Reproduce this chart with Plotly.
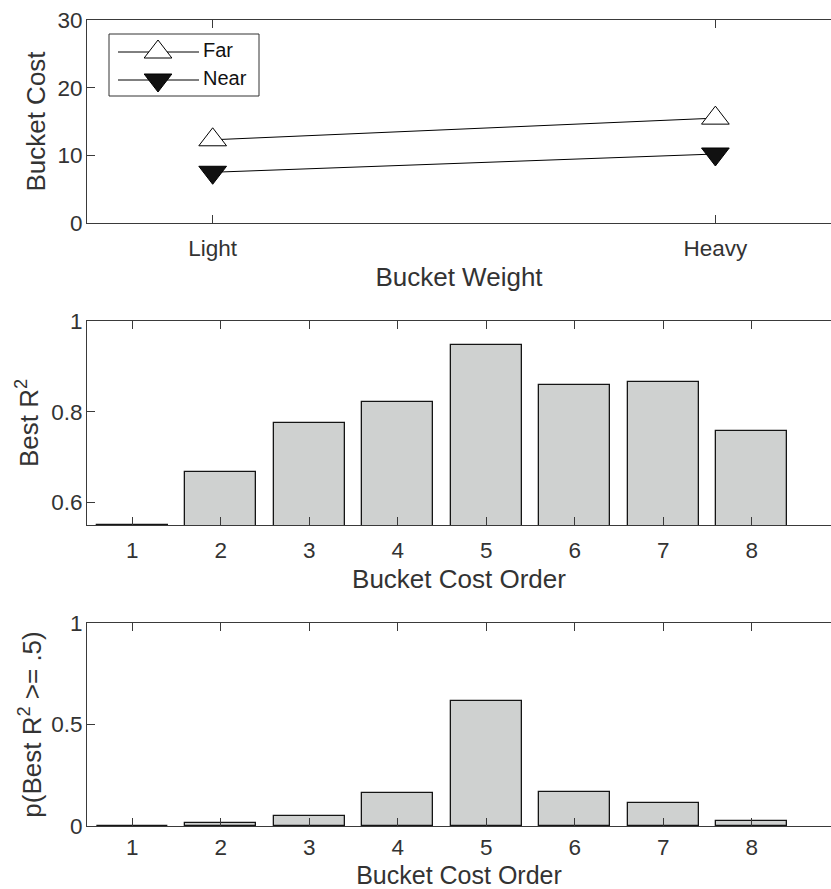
import plotly.graph_objects as go

# ---- data ----
weight_labels = ["Light", "Heavy"]
series_names = ["Far", "Near"]
far_cost = [12.3, 15.5]
near_cost = [7.5, 10.2]

cost_order = [1, 2, 3, 4, 5, 6, 7, 8]
best_r2 = [0.551, 0.666, 0.776, 0.821, 0.948, 0.859, 0.866, 0.758]
p_best_r2 = [0.0, 0.017, 0.049, 0.163, 0.617, 0.167, 0.111, 0.026]

FONT = "Liberation Sans, Arial, Helvetica, sans-serif"
AX = "#3a3a3a"
TXT = "#333333"
BAR_FILL = "#cfd1d0"
MSIZE = 24

fig = go.Figure()

xpos = list(range(1, len(weight_labels) + 1))
far_marker = dict(symbol="triangle-up", size=MSIZE, color="white",
                  line=dict(color="black", width=1))
near_marker = dict(symbol="triangle-down", size=MSIZE, color="#111111",
                   line=dict(color="black", width=1))

fig.add_trace(go.Scatter(
    x=xpos, y=far_cost, name=series_names[0], mode="lines+markers",
    line=dict(color="black", width=1), marker=far_marker,
    showlegend=False, xaxis="x", yaxis="y"))
fig.add_trace(go.Scatter(
    x=xpos, y=near_cost, name=series_names[1], mode="lines+markers",
    line=dict(color="black", width=1), marker=near_marker,
    showlegend=False, xaxis="x", yaxis="y"))

fig.add_trace(go.Bar(
    x=cost_order, y=best_r2, width=0.8, showlegend=False,
    marker=dict(color=BAR_FILL, line=dict(color="#151515", width=1.3)),
    xaxis="x2", yaxis="y2"))
fig.add_trace(go.Bar(
    x=cost_order, y=p_best_r2, width=0.8, showlegend=False,
    marker=dict(color=BAR_FILL, line=dict(color="#151515", width=1.3)),
    xaxis="x3", yaxis="y3"))

# ---- custom legend (MATLAB style: long line sample with centred marker) ----
# overlay axis on the top panel measured in pixels from its top-left corner
leg_box = dict(x0=22, x1=172, y0=14, y1=76)
leg_rows = [32, 60]
leg_line = (31, 112)
leg_marker_x = 71
leg_text_x = 116
fig.add_shape(type="rect", xref="x4", yref="y4", **leg_box,
              line=dict(color="#333333", width=1), fillcolor="white",
              layer="below")
for row, name, mk in zip(leg_rows, series_names, [far_marker, near_marker]):
    fig.add_shape(type="line", xref="x4", yref="y4",
                  x0=leg_line[0], x1=leg_line[1], y0=row, y1=row,
                  line=dict(color="black", width=1), layer="below")
    fig.add_trace(go.Scatter(x=[leg_marker_x], y=[row], mode="markers",
                             marker=mk, showlegend=False, hoverinfo="skip",
                             xaxis="x4", yaxis="y4"))
fig.add_trace(go.Scatter(
    x=[leg_text_x] * len(series_names), y=leg_rows, mode="text",
    text=series_names, textposition="middle right",
    textfont=dict(family=FONT, size=20, color="#111111"),
    showlegend=False, hoverinfo="skip", xaxis="x4", yaxis="y4"))

tickfont = dict(family=FONT, size=22.5, color=TXT)
titlefont = dict(family=FONT, size=26, color=TXT)

def xax(**kw):
    d = dict(showline=True, linecolor=AX, linewidth=1, mirror="ticks",
             ticks="inside", ticklen=8, tickcolor=AX, tickwidth=1,
             showgrid=False, zeroline=False, tickfont=tickfont,
             title_font=titlefont, ticklabelstandoff=5, automargin=False)
    d.update(kw)
    return d

def yax(**kw):
    d = dict(showline=True, linecolor=AX, linewidth=1, mirror=False,
             ticks="inside", ticklen=8, tickcolor=AX, tickwidth=1,
             showgrid=False, zeroline=False, tickfont=tickfont,
             title_font=titlefont, ticklabelstandoff=-1, automargin=False)
    d.update(kw)
    return d

fig.update_layout(
    width=831, height=889,
    margin=dict(l=87, r=0, t=20, b=63, autoexpand=False),
    plot_bgcolor="white", paper_bgcolor="white",
    font=dict(family=FONT, color=TXT),
    bargap=0,
    showlegend=False,
    xaxis=xax(domain=[0, 1], range=[0.75, 2.23], anchor="y",
              tickmode="array", tickvals=xpos, ticktext=weight_labels,
              title=dict(text="Bucket Weight", standoff=7)),
    yaxis=yax(domain=[0.7481, 1.0], range=[0, 30], anchor="x",
              tickmode="array", tickvals=[0, 10, 20, 30],
              title=dict(text="Bucket Cost", standoff=4)),
    xaxis2=xax(domain=[0, 1], range=[0.488, 8.896], anchor="y2",
               tickmode="array", tickvals=cost_order,
               title=dict(text="Bucket Cost Order", standoff=7)),
    yaxis2=yax(domain=[0.3734, 0.6266], range=[0.55, 1.0], anchor="x2",
               tickmode="array", tickvals=[0.6, 0.8, 1.0],
               ticktext=["0.6", "0.8", "1"],
               title=dict(text="Best R<sup>2</sup>", standoff=5)),
    xaxis3=xax(domain=[0, 1], range=[0.488, 8.896], anchor="y3",
               tickmode="array", tickvals=cost_order, ticklabelstandoff=1,
               title=dict(text="Bucket Cost Order", standoff=12,
                          font=dict(family=FONT, size=25, color=TXT))),
    yaxis3=yax(domain=[0.0, 0.2519], range=[0, 1.0], anchor="x3",
               tickmode="array", tickvals=[0, 0.5, 1.0],
               ticktext=["0", "0.5", "1"],
               title=dict(text="p(Best R<sup>2</sup> >= .5)", standoff=2)),
    xaxis4=dict(domain=[0, 1], range=[0, 744], visible=False, fixedrange=True,
                anchor="y4", overlaying="x", automargin=False),
    yaxis4=dict(domain=[0.7481, 1.0], range=[203, 0], visible=False,
                fixedrange=True, anchor="x4", overlaying="y", automargin=False),
)

fig.write_html("out.html")
